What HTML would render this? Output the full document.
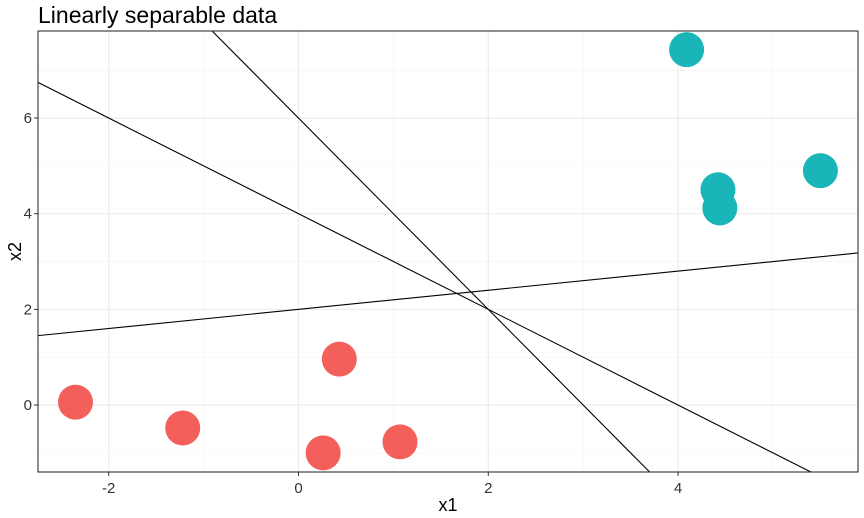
<!DOCTYPE html>
<html><head><meta charset="utf-8"><style>
html,body{margin:0;padding:0;background:#fff;width:864px;height:518px;overflow:hidden;font-family:"Liberation Sans",sans-serif}
svg{display:block}
</style></head><body>
<svg id="chart" width="864" height="518" xmlns="http://www.w3.org/2000/svg"></svg>
<script>
const redX=[-2.35,-1.22,0.43,0.26,1.07];
const redY=[0.06,-0.48,0.96,-1.0,-0.77];
const tealX=[4.09,4.42,4.44,5.50];
const tealY=[7.43,4.50,4.12,4.90];
const lineIntercepts=[2,4,6];
const lineSlopes=[0.2,-1,-2];
const xTicks=[-2,0,2,4];
const yTicks=[0,2,4,6];
const xMinor=[-1,1,3,5];
const yMinor=[-1,1,3,5,7];

const L=38,R=858,T=31,B=472;
const xMin=-2.745,xMax=5.896,yMin=-1.40,yMax=7.82;
const sx=v=>L+(v-xMin)/(xMax-xMin)*(R-L);
const sy=v=>B-(v-yMin)/(yMax-yMin)*(B-T);
const svg=document.getElementById('chart');
const NS='http://www.w3.org/2000/svg';
function mk(tag,attrs,parent){const e=document.createElementNS(NS,tag);for(const k in attrs)e.setAttribute(k,attrs[k]);(parent||svg).appendChild(e);return e;}
const clip=mk('clipPath',{id:'pc'});mk('rect',{x:L,y:T,width:R-L,height:B-T},clip);
xMinor.forEach(v=>{const e=mk('line',{x1:sx(v),x2:sx(v),y1:T,y2:B,stroke:'#f2f2f2','stroke-width':0.6});});
yMinor.forEach(v=>{const e=mk('line',{x1:L,x2:R,y1:sy(v),y2:sy(v),stroke:'#f2f2f2','stroke-width':0.6});});
xTicks.forEach(v=>{const e=mk('line',{x1:sx(v),x2:sx(v),y1:T,y2:B,stroke:'#ebebeb','stroke-width':1.1});
 mk('line',{x1:sx(v),x2:sx(v),y1:B,y2:B+4,stroke:'#333'});
 const t=mk('text',{x:sx(v),y:B+21,'text-anchor':'middle','font-size':15,fill:'#333'});t.textContent=v;});
yTicks.forEach(v=>{const e=mk('line',{x1:L,x2:R,y1:sy(v),y2:sy(v),stroke:'#ebebeb','stroke-width':1.1});
 mk('line',{x1:L-4,x2:L,y1:sy(v),y2:sy(v),stroke:'#333'});
 const t=mk('text',{x:L-6,y:sy(v)+5,'text-anchor':'end','font-size':15,fill:'#333'});t.textContent=v;});
const g=mk('g',{'clip-path':'url(#pc)'});
lineIntercepts.forEach((b,i)=>{const m=lineSlopes[i];const e=mk('line',{x1:sx(xMin),y1:sy(b+m*xMin),x2:sx(xMax),y2:sy(b+m*xMax),stroke:'#000','stroke-width':1.1},g);});
redX.forEach((x,i)=>{const c=mk('circle',{cx:sx(x),cy:sy(redY[i]),r:17.5,fill:'#F3605B'},g);});
tealX.forEach((x,i)=>{const c=mk('circle',{cx:sx(x),cy:sy(tealY[i]),r:17.5,fill:'#1AB5B8'},g);});
const bd=mk('rect',{x:L,y:T,width:R-L,height:B-T,fill:'none',stroke:'#333','stroke-width':1.1});
let t=mk('text',{x:38,y:23,'font-size':23,fill:'#000'});t.textContent='Linearly separable data';
t=mk('text',{x:(L+R)/2,y:511,'text-anchor':'middle','font-size':18,fill:'#000'});t.textContent='x1';
t=mk('text',{x:0,y:0,'text-anchor':'middle','font-size':18,fill:'#000',transform:`translate(21,${(T+B)/2}) rotate(-90)`});t.textContent='x2';
</script>
</body></html>
